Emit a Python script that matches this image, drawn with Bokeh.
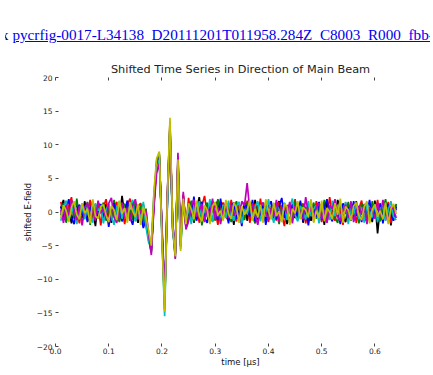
from bokeh.plotting import figure
from bokeh.models import Div, LinearAxis, FixedTicker, Range1d
from bokeh.layouts import column
from bokeh.embed import file_html
from bokeh.resources import INLINE
import numpy as np

# ---------------- data ----------------
t_start = 0.010
t_step = 0.005
n_samples = 127

link_prefix = "x"
link_text = "pycrfig-0017-L34138_D20111201T011958.284Z_C8003_R000_fbb-pulses.png"
title_text = "Shifted Time Series in Direction of Main Beam"
x_label = "time [\u03bcs]"
y_label = "shifted E-field"

x_ticks = [0.0, 0.1, 0.2, 0.3, 0.4, 0.5, 0.6, 0.7]
y_ticks = [-20, -15, -10, -5, 0, 5, 10, 15, 20]

s_blue = [0.8, -1.2, 0.5, 1.9, -0.7, -1.8, 0.3, 1.1, -0.4, 0.9, -1.5, 0.2, 1.6, -0.9, -0.3, 1.2,
          -1.1, 0.6, -2.2, 0.4, 1.3, -0.6, 0.9, -1.4, 0.1, 1.7, -0.8, -1.9, 0.7, 1.0, -0.5, -2.4,
          -1.0, -3.5, -5.2, 1.5, 6.8, 8.0, -2.5, -12.5, 1.0, 12.0, -1.5, -6.0, 7.0, -4.5, 1.8, -2.0,
          1.2, -0.8, 2.3, -1.3, 0.4, 1.5, -0.9, -1.6, 0.8, 1.1, -0.3, -1.2, 2.0, -0.6, 0.5, -1.7,
          0.9, 1.4, -1.0, 0.2, -2.1, 1.3, 0.6, -0.7, 1.8, -1.4, 0.3, -0.5, 1.0, -1.9, 0.7, 1.6,
          -0.4, -1.1, 0.8, 2.1, -0.9, 0.1, -1.6, 1.2, 0.5, -0.8, 1.7, -1.3, 0.4, -2.0, 1.1, 0.3,
          -0.7, 1.5, -1.2, 0.6, 1.9, -0.5, -1.4, 0.9, 0.2, -1.8, 1.3, -0.3, 0.7, -1.0, 1.6, -0.6,
          0.4, -1.5, 1.0, -0.2, 1.8, -1.1, 0.5, -0.9, 1.3, -1.7, 0.6, 1.1, -0.4, -1.3, 0.8]

s_green = [-0.5, 1.3, -1.6, 0.2, 1.0, -0.8, 2.0, -1.1, 0.4, -0.3, 1.5, -1.9, 0.7, 1.1, -0.6, 0.0,
           1.4, -1.3, 0.5, -0.9, 1.8, -0.2, -1.5, 0.8, 1.2, -0.7, 0.3, -1.2, 1.6, -0.4, 0.9, -1.8,
           0.5, -4.2, -6.0, 2.4, 7.6, 8.7, -3.4, -14.5, 2.3, 13.0, -2.4, -6.8, 8.2, -5.2, 2.2, -1.6,
           -0.9, 1.7, -1.4, 0.6, 1.1, -2.0, 0.3, 1.4, -0.8, 0.5, -1.3, 1.9, -0.1, -1.0, 1.2, 0.4,
           -1.5, 0.7, 1.6, -0.9, 0.2, -1.2, 1.4, 0.8, -0.6, -1.7, 1.0, 0.3, -1.1, 1.5, -0.4, -0.8,
           1.2, 0.5, -1.8, 0.9, 1.3, -0.7, 0.4, -1.2, 1.7, -0.3, -0.9, 1.1, 0.6, -1.5, 0.2, 1.4,
           -1.0, 0.7, -0.5, 1.8, -1.4, 0.3, 1.0, -0.8, -1.6, 1.2, 0.5, -0.2, 1.5, -1.3, 0.1, 0.9,
           -1.7, 1.3, 0.2, -0.6, -1.1, 1.6, -0.3, 0.8, -1.4, 0.4, 1.9, -0.7, 0.6, -1.0, 1.2]

s_red = [1.5, -0.3, -1.4, 0.9, 2.2, -1.0, 0.1, -1.7, 1.2, 0.6, -0.5, 1.8, -1.2, 0.3, 1.0, -2.0,
         0.7, 1.9, -0.6, -1.3, 0.4, 1.5, -0.9, 0.2, -1.8, 1.1, 2.0, -0.4, -1.0, 0.8, 1.3, -0.7,
         -1.5, -3.8, -5.6, 1.0, 7.2, 8.3, -2.8, -13.8, 1.6, 13.5, -1.8, -6.3, 7.5, -4.8, 2.6, -2.3,
         2.1, -1.2, 0.6, 1.3, -1.6, 0.9, 2.4, -0.5, -1.1, 1.6, 0.2, -1.9, 0.8, 1.4, -0.7, -1.3,
         1.8, -0.2, -1.4, 1.1, 0.5, -0.9, 1.7, -1.6, 0.3, 1.2, -0.8, 2.0, -1.1, 0.4, -1.5, 0.9,
         0.6, -1.3, 1.5, -0.4, -2.1, 1.0, 0.7, -0.6, 1.9, -1.2, 0.2, 1.3, -1.7, 0.8, -0.3, -1.0,
         1.6, 0.4, -1.5, 1.1, -0.8, 2.2, -0.4, -1.3, 0.9, 0.3, -1.9, 1.4, -0.6, 0.7, 1.2, -1.6,
         0.5, 1.7, -0.9, -1.4, 0.6, 1.0, -0.5, 1.8, -1.2, 0.2, -0.8, 1.5, -1.6, 0.9, 0.3]

s_cyan = [-1.3, 0.6, 1.7, -0.9, -0.2, 1.4, -1.8, 0.5, 1.0, -1.1, 0.8, -0.4, -1.6, 1.3, 0.2, 0.9,
          -1.7, 0.3, 1.2, -0.5, -1.9, 0.7, 1.6, -1.0, 0.4, -0.6, 1.1, 1.8, -1.4, 0.0, -0.8, 1.5,
          -2.2, -4.6, -4.8, 2.8, 6.2, 7.8, -4.0, -15.5, 0.5, 12.5, -2.8, -5.8, 6.8, -5.5, 1.4, -1.4,
          0.7, -1.8, 1.0, -0.2, 1.6, -1.1, 0.4, -0.7, 1.9, -1.5, 0.6, 0.1, -1.2, 1.1, -0.9, 1.7,
          -0.5, -1.3, 0.9, 1.5, -1.7, 0.4, -0.3, 1.2, -1.0, 0.8, 1.6, -1.4, 0.5, -0.7, 1.9, -0.2,
          -1.6, 1.1, 0.3, -0.9, 1.4, -1.2, 0.6, 2.0, -0.5, -1.4, 0.9, 0.1, -1.1, 1.6, -0.6, 0.5,
          1.0, -1.7, 0.8, -0.3, 0.4, -1.2, 1.7, -0.6, 1.1, -1.0, 0.2, 1.5, -1.8, 0.6, -0.4, 1.3,
          -1.1, 0.7, -1.6, 1.4, 0.1, -0.8, 1.2, -1.5, 0.5, 0.9, -1.3, 0.3, 1.6, -0.7, -1.2]

s_magenta = [0.3, -1.6, 1.1, -0.5, 1.8, 0.4, -1.2, 0.9, -2.0, 0.6, 1.4, -0.8, 0.2, -1.3, 1.7, -0.1,
             0.5, -1.0, 1.3, 2.1, -0.8, -1.6, 0.2, 1.4, -0.9, 0.6, -1.3, 0.9, 1.9, -1.1, 0.3, -0.6,
             0.2, -3.2, -6.4, 0.8, 5.8, 7.2, -2.0, -13.0, 2.8, 11.5, -1.2, -7.0, 8.8, -4.2, 3.0, -2.6,
             -1.4, 0.9, 1.8, -0.7, 0.2, 1.2, -1.5, 0.6, -0.4, 2.0, -1.0, 0.7, -1.8, 0.3, 1.5, -0.9,
             1.1, -0.6, 0.4, -1.4, 1.6, 0.9, 4.3, 0.2, 1.3, -0.5, -1.9, 0.8, 1.4, 0.0, -1.2, 0.6,
             -0.7, 1.8, -1.5, 0.4, 0.7, -0.2, 1.5, -1.7, 0.9, 1.2, -0.6, -1.0, 2.2, -0.3, 0.6, -1.4,
             0.8, 1.3, -1.1, 0.2, -1.6, 1.0, 0.5, 1.9, -0.7, -1.3, 0.4, 1.1, -0.9, 1.6, -1.5, 0.2,
             0.9, -0.4, 1.2, -1.8, 0.7, 0.3, -1.0, 1.4, -0.6, 1.8, -0.2, -1.5, 0.8, 0.4, -0.9]

s_yellow = [-0.9, 1.0, 0.2, -1.5, 0.7, 1.6, -0.4, -1.1, 1.3, -0.2, 0.5, -1.7, 1.9, -0.6, -1.0, 0.8,
            1.1, -0.4, -1.5, 0.9, 0.3, -1.2, 1.7, -0.3, 0.6, -1.6, 1.4, 0.1, -0.7, 1.2, -1.9, 0.8,
            -0.8, -2.8, -5.0, 3.2, 8.0, 9.0, -3.8, -14.8, 1.8, 14.0, -2.0, -6.6, 7.8, -5.8, 2.0, -1.8,
            1.3, 0.4, -1.1, 1.7, -0.6, -1.4, 1.0, 0.3, -1.8, 0.9, 1.5, -0.5, 0.2, -1.3, 1.8, -0.3,
            -1.0, 1.4, 0.6, -1.6, 0.9, -0.4, 0.3, 1.7, -1.3, 0.5, -0.8, 1.1, -1.6, 1.9, 0.2, -1.1,
            1.4, -0.6, 0.1, -1.5, 1.2, 0.8, -1.9, 0.5, -0.2, 1.6, -1.1, 0.7, 0.3, -0.8, 1.9, -1.6,
            0.2, -0.9, 1.7, -1.4, 0.6, 0.0, -1.1, 1.3, -0.4, 2.0, -1.6, 0.8, 0.3, -1.2, 0.9, 1.4,
            -0.5, -1.2, 0.8, 1.6, -1.7, 0.4, 1.1, -0.7, 0.2, -1.1, 1.4, -1.8, 0.5, 1.2, -0.3]

s_black = [0.6, 1.8, -1.0, 0.4, -1.7, 0.1, 1.2, -0.6, -0.9, 1.6, -1.3, 0.8, 0.3, -2.1, 1.4, 0.5,
           -0.8, 1.2, 0.2, -1.6, 1.0, 0.6, -1.3, 2.4, -0.5, 0.9, -1.0, 1.5, -0.2, -1.6, 0.4, 1.1,
           -1.8, -4.0, -5.8, 1.8, 7.0, 8.5, -3.0, -13.5, 1.2, 12.8, -2.2, -6.2, 7.2, -5.0, 2.4, -2.1,
           -0.6, 1.5, -1.6, 0.3, 2.2, -0.9, -1.2, 1.1, 0.5, -1.4, 0.8, 1.7, -1.1, 0.0, -0.7, 1.3,
           0.4, -1.9, 1.2, 0.7, -0.8, 1.5, -1.3, 0.6, 0.1, 1.8, -1.2, -0.4, 0.9, -1.5, 1.1, 0.3,
           -1.2, 0.9, 1.6, -1.0, 0.3, -1.8, 1.2, 0.5, -0.9, 0.7, 1.4, -1.6, 0.2, 1.0, -1.3, 0.8,
           -0.4, 1.2, 0.6, -1.9, 1.5, -0.7, 0.3, -1.1, 1.8, 0.4, -0.6, -1.5, 1.1, 0.2, -0.8, 1.6,
           -1.4, 0.6, 1.0, -0.9, 0.3, -1.5, 1.7, -3.2, 0.9, -1.2, 0.5, 1.3, -2.0, 0.6, 1.0]

# drawing order (last on top) and matplotlib-classic colours
all_series = [s_black, s_red, s_green, s_blue, s_cyan, s_magenta, s_yellow]
series_colors = ["#000000", "#ff0000", "#008000", "#0000ff", "#00bfbf", "#bf00bf", "#bfbf00"]

# time grid of the samples
t = t_start + t_step * np.arange(n_samples)

# ---------------- header ----------------
header = Div(
    text=('<div style="width:425px;overflow:hidden;white-space:nowrap;'
          'font-family:\'Liberation Serif\',serif;font-size:15.2px;line-height:18px;'
          'padding-top:21px;"><span style="margin-left:-4px;">'
          + link_prefix + '</span> <a href="#" style="color:#0000ee;text-decoration:underline;">'
          + link_text + '</a></div>'),
    width=425, height=40,
)

# ---------------- figure ----------------
p = figure(width=425, height=319, output_backend="svg", toolbar_location=None,
           x_range=Range1d(0.0, 0.695), y_range=Range1d(-20, 20),
           min_border_left=55, min_border_right=0, min_border_top=27, min_border_bottom=19)

p.title.text = title_text
p.title.align = "center"
p.title.text_font = "DejaVu Sans"
p.title.text_font_size = "11.3px"
p.title.text_font_style = "normal"
p.title.text_color = "#222222"
p.title.standoff = 4

p.xgrid.visible = False
p.ygrid.visible = False
p.outline_line_color = None
p.background_fill_color = "white"
p.border_fill_color = "white"

for vals, col in zip(all_series, series_colors):
    p.line(t, vals, line_color=col, line_width=1.7)

xa = p.xaxis[0]
ya = p.yaxis[0]
xa.ticker = FixedTicker(ticks=x_ticks)
ya.ticker = FixedTicker(ticks=y_ticks)
xa.major_label_overrides = {v: f"{v:.1f}" for v in x_ticks}
ya.major_label_overrides = {v: (("\u2212" + str(-v)) if v < 0 else str(v)) for v in y_ticks}
for ax in (xa, ya):
    ax.axis_line_color = None
    ax.major_tick_in = 3
    ax.major_tick_out = 0
    ax.major_tick_line_color = "#444444"
    ax.minor_tick_line_color = None
    ax.major_label_text_font = "DejaVu Sans"
    ax.major_label_text_font_size = "7.5px"
    ax.major_label_text_color = "#222222"
    ax.axis_label_text_font = "DejaVu Sans"
    ax.axis_label_text_font_size = "8.5px"
    ax.axis_label_text_font_style = "normal"
    ax.axis_label_text_color = "#111111"
xa.major_label_standoff = 1
xa.axis_label_standoff = 0
ya.major_label_standoff = 3
ya.axis_label_standoff = 1
xa.axis_label = x_label
ya.axis_label = y_label

top_ax = LinearAxis(ticker=FixedTicker(ticks=x_ticks))
top_ax.axis_line_color = None
top_ax.major_tick_in = 3
top_ax.major_tick_out = 0
top_ax.major_tick_line_color = "#444444"
top_ax.minor_tick_line_color = None
top_ax.major_label_overrides = {v: "" for v in x_ticks}
top_ax.major_label_standoff = 0
p.add_layout(top_ax, "above")

layout = column(header, p, spacing=0)
open("out.html", "w").write(file_html(layout, INLINE))
